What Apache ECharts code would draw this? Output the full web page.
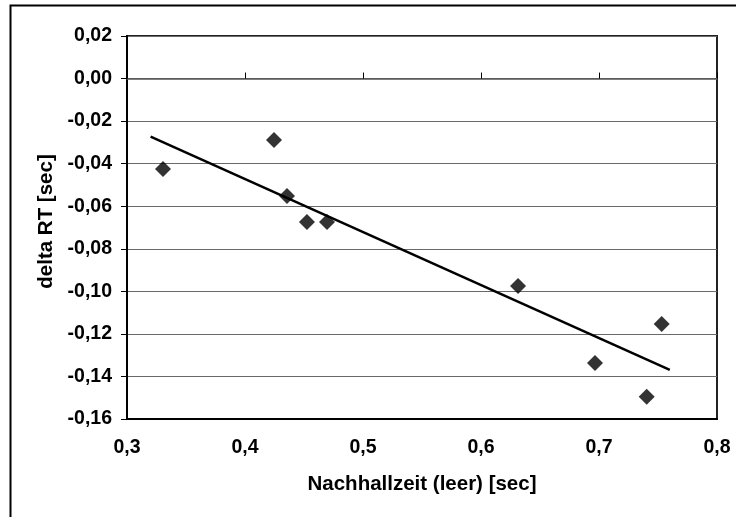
<!DOCTYPE html>
<html>
<head>
<meta charset="utf-8">
<script src="https://cdn.jsdelivr.net/npm/echarts@6/dist/echarts.min.js"></script>
<style>
  html, body { margin: 0; padding: 0; background: #fff; }
  #chart { width: 736px; height: 517px; }
</style>
</head>
<body>
<div id="chart"></div>
<script>
// Nachhallzeit (leer) vs. delta RT, both in seconds
const reverbTime = [0.3305, 0.4246, 0.4356, 0.4525, 0.4695, 0.6314, 0.6966, 0.7404, 0.7531];
const deltaRT    = [-0.0425, -0.0289, -0.0552, -0.0674, -0.0674, -0.0975, -0.1337, -0.1495, -0.1154];

// x range covered by the linear trend line
const trendRange = [0.32, 0.76];

// axis scales
const xScale = { min: 0.3, max: 0.8, step: 0.1 };
const yScale = { min: -0.16, max: 0.02, step: 0.02 };

const FONT = '"Liberation Sans", Arial, sans-serif';

// least-squares fit of deltaRT over reverbTime
function linearFit(xs, ys) {
  const n = xs.length;
  const mx = xs.reduce((a, b) => a + b, 0) / n;
  const my = ys.reduce((a, b) => a + b, 0) / n;
  let sxy = 0, sxx = 0;
  for (let i = 0; i < n; i++) {
    sxy += (xs[i] - mx) * (ys[i] - my);
    sxx += (xs[i] - mx) * (xs[i] - mx);
  }
  const slope = sxy / sxx;
  return { slope, intercept: my - slope * mx };
}

const fit = linearFit(reverbTime, deltaRT);
const trendPoints = trendRange.map(x => [x, fit.intercept + fit.slope * x]);
const points = reverbTime.map((x, i) => [x, deltaRT[i]]);

function commaFixed(v, digits) {
  if (Math.abs(v) < 1e-9) v = 0;
  return v.toFixed(digits).replace('.', ',');
}

const chart = echarts.init(document.getElementById('chart'), null, { renderer: 'canvas' });

chart.setOption({
  animation: false,
  backgroundColor: '#fff',
  graphic: [{
    type: 'rect',
    shape: { x: 10.5, y: 5.5, width: 740, height: 530 },
    style: { fill: 'none', stroke: '#000', lineWidth: 2 },
    silent: true,
    z: 100
  }],
  grid: {
    left: 127, top: 36, width: 590, height: 383,
    show: true,
    borderColor: '#222',
    borderWidth: 2,
    backgroundColor: '#fff'
  },
  xAxis: [{
    type: 'value',
    min: xScale.min, max: xScale.max, interval: xScale.step,
    position: 'bottom',
    name: 'Nachhallzeit (leer) [sec]',
    nameLocation: 'middle',
    nameGap: 55,
    nameTextStyle: { fontFamily: FONT, fontWeight: 'bold', fontSize: 20.5, color: '#000' },
    axisLine: { onZero: false, lineStyle: { color: '#000', width: 2 } },
    axisTick: { show: false },
    splitLine: { show: false },
    axisLabel: {
      margin: 19,
      fontFamily: FONT, fontWeight: 'bold', fontSize: 19.5, color: '#000',
      formatter: v => commaFixed(v, 1)
    }
  }, {
    // axis line through zero with its tick marks
    type: 'value',
    min: xScale.min, max: xScale.max, interval: xScale.step,
    position: 'bottom',
    axisLine: { onZero: true, onZeroAxisIndex: 0, lineStyle: { color: '#555', width: 1.5 } },
    axisTick: { show: true, inside: true, length: 6, lineStyle: { color: '#000', width: 1 } },
    axisLabel: { show: false },
    splitLine: { show: false }
  }],
  yAxis: {
    type: 'value',
    min: yScale.min, max: yScale.max, interval: yScale.step,
    name: 'delta RT [sec]',
    nameLocation: 'middle',
    nameGap: 70,
    nameTextStyle: {
      fontFamily: FONT, fontWeight: 'bold', fontSize: 20.5, color: '#000',
      padding: [0, 0, 0, 12]
    },
    axisLine: { show: true, lineStyle: { color: '#000', width: 2 } },
    axisTick: { show: true, length: 6, lineStyle: { color: '#000', width: 1 } },
    splitLine: { show: true, lineStyle: { color: '#6a6a6a', width: 1 } },
    axisLabel: {
      margin: 15,
      fontFamily: FONT, fontWeight: 'bold', fontSize: 19.5, color: '#000',
      formatter: v => commaFixed(v, 2)
    }
  },
  series: [{
    type: 'scatter',
    data: points,
    symbol: 'diamond',
    symbolSize: 16,
    itemStyle: { color: '#000' },
    z: 3
  }, {
    type: 'line',
    data: trendPoints,
    showSymbol: false,
    lineStyle: { color: '#000', width: 2.5 },
    z: 4
  }]
});
</script>
</body>
</html>
